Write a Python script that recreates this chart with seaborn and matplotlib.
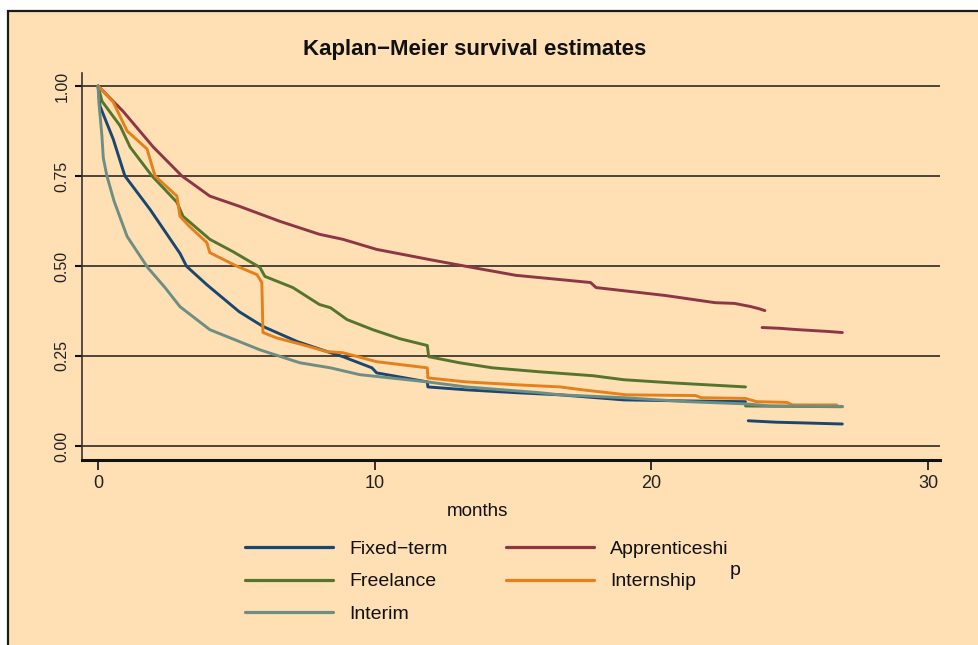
import matplotlib
matplotlib.use("Agg")
import matplotlib.pyplot as plt
import seaborn as sns
import pandas as pd
from matplotlib.lines import Line2D
from matplotlib.patches import Rectangle

# ---------------- data ----------------
fixed_t = [0, 0.07, 0.55, 0.97, 1.88, 2.96, 3.2, 3.93, 5.1, 5.96, 7.2, 8.4, 8.85, 9.9,
           10.07, 11.9, 11.92, 13.3, 15.1, 16.7, 19.0, 21.3, 23.4]
fixed_s = [1.0, 0.944, 0.852, 0.75, 0.657, 0.535, 0.499, 0.448, 0.373, 0.332, 0.29, 0.259,
           0.248, 0.217, 0.203, 0.178, 0.164, 0.156, 0.148, 0.142, 0.128, 0.125, 0.123]
fixed_t2 = [23.5, 24.5, 25.5, 26.9]
fixed_s2 = [0.070, 0.066, 0.064, 0.061]

appr_t = [0, 0.9, 2.0, 3.03, 4.04, 5.1, 6.57, 8.0, 8.85, 10.07, 12.1, 13.3, 15.1, 17.8,
          18.0, 20.5, 22.3, 23.0, 23.6, 23.9, 24.1]
appr_s = [1.0, 0.93, 0.83, 0.75, 0.694, 0.666, 0.624, 0.588, 0.574, 0.546, 0.516, 0.499,
          0.474, 0.454, 0.44, 0.418, 0.398, 0.396, 0.387, 0.381, 0.376]
appr_t2 = [24.0, 24.6, 25.3, 26.4, 26.9]
appr_s2 = [0.329, 0.327, 0.323, 0.318, 0.315]

free_t = [0, 0.14, 0.8, 1.16, 1.95, 2.85, 3.07, 4.04, 4.87, 5.85, 6.03, 7.04, 8.0, 8.4,
          9.0, 9.93, 10.9, 11.9, 11.95, 13.07, 14.26, 15.96, 17.9, 19.0, 20.8, 23.4]
free_s = [1.0, 0.958, 0.889, 0.83, 0.75, 0.677, 0.638, 0.574, 0.54, 0.496, 0.471, 0.44,
          0.393, 0.384, 0.351, 0.323, 0.298, 0.279, 0.248, 0.231, 0.217, 0.206, 0.195,
          0.184, 0.175, 0.164]
free_t2 = [23.4, 26.9]
free_s2 = [0.111, 0.109]

intern_t = [0, 0.55, 1.05, 1.77, 2.06, 2.85, 2.96, 3.3, 3.93, 4.04, 5.0, 5.74, 5.92, 5.96,
            6.46, 7.4, 8.27, 8.85, 10.07, 11.9, 11.92, 13.3, 15.1, 16.7, 17.5, 19.1, 21.6,
            21.8, 23.4, 23.8, 24.9, 25.1, 26.7]
intern_s = [1.0, 0.955, 0.875, 0.825, 0.75, 0.694, 0.638, 0.61, 0.565, 0.537, 0.50, 0.476,
            0.454, 0.315, 0.30, 0.281, 0.262, 0.259, 0.234, 0.217, 0.189, 0.178, 0.17,
            0.164, 0.156, 0.142, 0.140, 0.134, 0.132, 0.123, 0.121, 0.114, 0.114]

interim_t = [0, 0.03, 0.14, 0.19, 0.32, 0.58, 1.05, 1.8, 2.42, 2.96, 4.04, 5.85, 6.93, 7.3,
             8.4, 9.46, 11.9, 13.3, 15.96, 16.7, 19.0, 21.3, 23.4, 24.3, 26.9]
interim_s = [1.0, 0.955, 0.861, 0.80, 0.75, 0.68, 0.582, 0.495, 0.44, 0.387, 0.323, 0.267,
             0.240, 0.231, 0.217, 0.198, 0.178, 0.164, 0.148, 0.142, 0.134, 0.123, 0.117,
             0.111, 0.110]

categories = ["Fixed−term", "Apprenticeship", "Freelance", "Internship", "Interim"]
colors = ["#1A476F", "#8E3644", "#55752F", "#E5801A", "#6E8E84"]

x_ticks = [0, 10, 20, 30]
x_tick_labels = ["0", "10", "20", "30"]
y_ticks = [0, 0.25, 0.5, 0.75, 1.0]
y_tick_labels = ["0.00", "0.25", "0.50", "0.75", "1.00"]

segments = [
    ("Fixed−term", 1, fixed_t, fixed_s), ("Fixed−term", 2, fixed_t2, fixed_s2),
    ("Apprenticeship", 1, appr_t, appr_s), ("Apprenticeship", 2, appr_t2, appr_s2),
    ("Freelance", 1, free_t, free_s), ("Freelance", 2, free_t2, free_s2),
    ("Internship", 1, intern_t, intern_s),
    ("Interim", 1, interim_t, interim_s),
]
rows = []
for cat, seg, ts, ss in segments:
    for t, s in zip(ts, ss):
        rows.append({"contract": cat, "unit": f"{cat}-{seg}", "months": t, "survival": s})
df = pd.DataFrame(rows)

# ---------------- style ----------------
sns.set_style("white")
plt.rcParams["font.family"] = ["Liberation Sans", "DejaVu Sans"]
bg = "#FFDFB4"

fig = plt.figure(figsize=(9.79, 6.45), dpi=100, facecolor="white")
frame = Rectangle((8 / 979, -0.02), 1.05, (645 - 11) / 645 + 0.02,
                  transform=fig.transFigure, facecolor=bg, edgecolor="#1a1a1a",
                  linewidth=1.6, zorder=-10)
fig.patches.append(frame)

ax = fig.add_axes([82 / 979, (645 - 460) / 645, (940 - 82) / 979, (460 - 73) / 645])
ax.set_facecolor(bg)
ax.set_zorder(1)

sns.lineplot(data=df, x="months", y="survival", hue="contract", units="unit",
             estimator=None, sort=False, hue_order=categories,
             palette=dict(zip(categories, colors)), linewidth=2.1, legend=False, ax=ax)

ax.set_xlim(-0.58, 30.43)
ax.set_ylim(-0.039, 1.036)
ax.set_xticks(x_ticks)
ax.set_xticklabels(x_tick_labels, fontsize=13)
ax.set_yticks(y_ticks)
ax.set_yticklabels(y_tick_labels, fontsize=11.5, rotation=90, va="center")
ax.tick_params(axis="y", direction="out", length=5, width=1.5, color="#111", pad=4,
               left=True, labelcolor="#222")
ax.tick_params(axis="x", direction="out", length=7, width=1.2, color="#111", pad=4,
               bottom=True, labelcolor="#222")
ax.grid(axis="y", color="#1a1a1a", linewidth=1.1)
ax.grid(axis="x", visible=False)
ax.set_axisbelow(True)
for sp in ["top", "right"]:
    ax.spines[sp].set_visible(False)
ax.spines["left"].set_color("#333")
ax.spines["left"].set_linewidth(1.2)
ax.spines["bottom"].set_color("#111")
ax.spines["bottom"].set_linewidth(2.2)
ax.set_xlabel("")
ax.set_ylabel("")

fig.text(475 / 979, 1 - 49 / 645, "Kaplan−Meier survival estimates", ha="center",
         va="center", fontsize=16, fontweight="bold", color="#111")
fig.text(477 / 979, 1 - 512 / 645, "months", ha="center", va="center", fontsize=13.5,
         color="#111")

# legend
leg_order = ["Fixed−term", "Freelance", "Interim", "Apprenticeship", "Internship"]
leg_labels = ["Fixed−term", "Freelance", "Interim", "Apprenticeshi", "Internship"]
cmap = dict(zip(categories, colors))
handles = [Line2D([0], [0], color=cmap[c], lw=2.3) for c in leg_order]
fig.legend(handles, leg_labels, ncol=2, loc="upper left",
           bbox_to_anchor=(228 / 979, 1 - 523 / 645), frameon=False, fontsize=14,
           handlelength=4.5, handletextpad=0.85, columnspacing=3.0, labelspacing=0.76,
           borderpad=0.4, labelcolor="#111")
fig.text(730 / 979, 1 - 575 / 645, "p", ha="left", va="baseline", fontsize=14, color="#111")

fig.savefig("out.png", dpi=100, facecolor=fig.get_facecolor())
